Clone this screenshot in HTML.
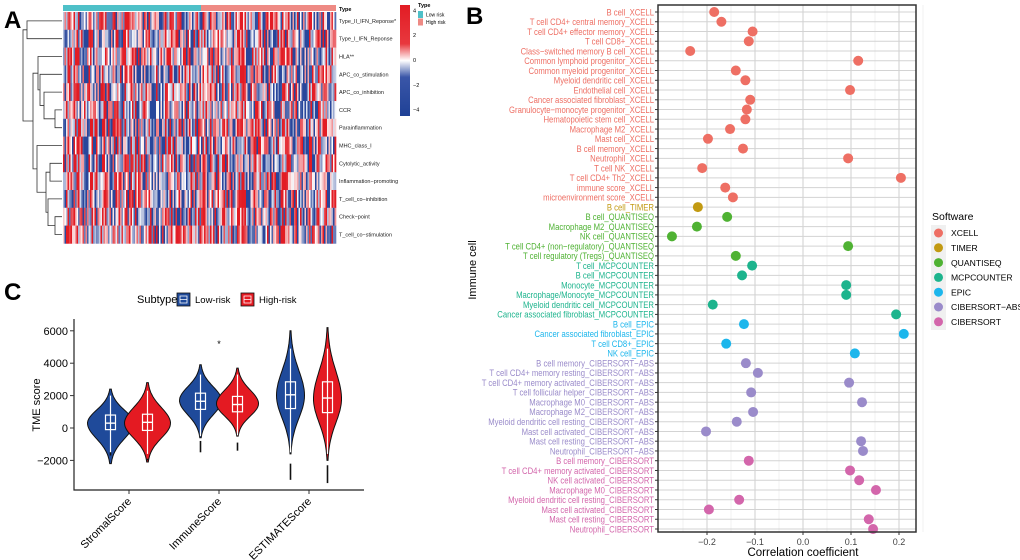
<!DOCTYPE html>
<html><head><meta charset="utf-8"><style>
html,body{margin:0;padding:0;background:#fff;width:1020px;height:560px;overflow:hidden}
svg{display:block;font-family:"Liberation Sans",sans-serif}
</style></head><body>
<svg id="fig" width="1020" height="560" viewBox="0 0 1020 560">
<g id="pa"></g>
<g id="pb"></g>
<g id="pc"></g>
<text x="4" y="28" font-size="24" font-weight="bold">A</text>
<text x="466" y="24" font-size="24" font-weight="bold">B</text>
<text x="4" y="300" font-size="24" font-weight="bold">C</text>
</svg>
<script>
// ---------- Panel B data ----------
const cellNames=["B cell_XCELL","T cell CD4+ central memory_XCELL","T cell CD4+ effector memory_XCELL","T cell CD8+_XCELL","Class\u2212switched memory B cell_XCELL","Common lymphoid progenitor_XCELL","Common myeloid progenitor_XCELL","Myeloid dendritic cell_XCELL","Endothelial cell_XCELL","Cancer associated fibroblast_XCELL","Granulocyte\u2212monocyte progenitor_XCELL","Hematopoietic stem cell_XCELL","Macrophage M2_XCELL","Mast cell_XCELL","B cell memory_XCELL","Neutrophil_XCELL","T cell NK_XCELL","T cell CD4+ Th2_XCELL","immune score_XCELL","microenvironment score_XCELL","B cell_TIMER","B cell_QUANTISEQ","Macrophage M2_QUANTISEQ","NK cell_QUANTISEQ","T cell CD4+ (non\u2212regulatory)_QUANTISEQ","T cell regulatory (Tregs)_QUANTISEQ","T cell_MCPCOUNTER","B cell_MCPCOUNTER","Monocyte_MCPCOUNTER","Macrophage/Monocyte_MCPCOUNTER","Myeloid dendritic cell_MCPCOUNTER","Cancer associated fibroblast_MCPCOUNTER","B cell_EPIC","Cancer associated fibroblast_EPIC","T cell CD8+_EPIC","NK cell_EPIC","B cell memory_CIBERSORT\u2212ABS","T cell CD4+ memory resting_CIBERSORT\u2212ABS","T cell CD4+ memory activated_CIBERSORT\u2212ABS","T cell follicular helper_CIBERSORT\u2212ABS","Macrophage M0_CIBERSORT\u2212ABS","Macrophage M2_CIBERSORT\u2212ABS","Myeloid dendritic cell resting_CIBERSORT\u2212ABS","Mast cell activated_CIBERSORT\u2212ABS","Mast cell resting_CIBERSORT\u2212ABS","Neutrophil_CIBERSORT\u2212ABS","B cell memory_CIBERSORT","T cell CD4+ memory activated_CIBERSORT","NK cell activated_CIBERSORT","Macrophage M0_CIBERSORT","Myeloid dendritic cell resting_CIBERSORT","Mast cell activated_CIBERSORT","Mast cell resting_CIBERSORT","Neutrophil_CIBERSORT"];
const corrValues=[-0.185,-0.17,-0.105,-0.113,-0.235,0.115,-0.14,-0.12,0.098,-0.11,-0.117,-0.12,-0.152,-0.198,-0.125,0.094,-0.21,0.204,-0.162,-0.146,-0.219,-0.158,-0.221,-0.273,0.094,-0.14,-0.106,-0.127,0.09,0.09,-0.188,0.194,-0.123,0.21,-0.16,0.108,-0.119,-0.094,0.096,-0.108,0.123,-0.104,-0.138,-0.202,0.121,0.125,-0.113,0.098,0.117,0.152,-0.133,-0.196,0.137,0.146];
const softwareOf=["XCELL","XCELL","XCELL","XCELL","XCELL","XCELL","XCELL","XCELL","XCELL","XCELL","XCELL","XCELL","XCELL","XCELL","XCELL","XCELL","XCELL","XCELL","XCELL","XCELL","TIMER","QUANTISEQ","QUANTISEQ","QUANTISEQ","QUANTISEQ","QUANTISEQ","MCPCOUNTER","MCPCOUNTER","MCPCOUNTER","MCPCOUNTER","MCPCOUNTER","MCPCOUNTER","EPIC","EPIC","EPIC","EPIC","CIBERSORT-ABS","CIBERSORT-ABS","CIBERSORT-ABS","CIBERSORT-ABS","CIBERSORT-ABS","CIBERSORT-ABS","CIBERSORT-ABS","CIBERSORT-ABS","CIBERSORT-ABS","CIBERSORT-ABS","CIBERSORT","CIBERSORT","CIBERSORT","CIBERSORT","CIBERSORT","CIBERSORT","CIBERSORT","CIBERSORT"];
const softwareList=["XCELL","TIMER","QUANTISEQ","MCPCOUNTER","EPIC","CIBERSORT-ABS","CIBERSORT"];
const xTicksB=[-0.2,-0.1,0.0,0.1,0.2];
const xTickLabelsB=["\u22120.2","\u22120.1","0.0","0.1","0.2"];
// ---------- Panel C data ----------
const tmeCategories=["StromalScore","ImmuneScore","ESTIMATEScore"];
const yTicksC=[-2000,0,2000,4000,6000];
const yTickLabelsC=["\u22122000","0","2000","4000","6000"];
const lowMedian=[300,1650,2050], lowQ1=[-100,1150,1200], lowQ3=[800,2150,2850];
const lowMin=[-2200,-600,-1600], lowMax=[2400,3900,6000], lowMode=[300,1700,2000];
const lowWhiskLo=[-1500,-500,-1500], lowWhiskHi=[2000,3300,4900];
const lowOutLo=[-1700,-1500,-3200], lowOutHi=[-1500,-800,-2200];
const highMedian=[350,1450,1850], highQ1=[-150,1000,950], highQ3=[850,1950,2850];
const highMin=[-2100,-500,-2000], highMax=[2800,3700,6200], highMode=[300,1500,1800];
const highWhiskLo=[-1600,-450,-1600], highWhiskHi=[2300,3300,4900];
const highOutLo=[-2000,-1400,-3400], highOutHi=[-1900,-900,-2300];
const violinHalfWidth=[23,21,14];
// ---------- Panel A data ----------
const heatRows=["Type_II_IFN_Reponse*","Type_I_IFN_Reponse","HLA**","APC_co_stimulation","APC_co_inhibition","CCR","Parainflammation","MHC_class_I","Cytolytic_activity","Inflammation\u2212promoting","T_cell_co\u2212inhibition","Check\u2212point","T_cell_co\u2212stimulation"];
const colorbarTicks=[4,2,0,-2,-4];

const NS="http://www.w3.org/2000/svg";
function mk(parent,tag,attrs,text){const e=document.createElementNS(NS,tag);for(const k in attrs)e.setAttribute(k,attrs[k]);if(text!==undefined)e.textContent=text;parent.appendChild(e);return e;}

// ===== Panel A =====
(function(){
const g=document.getElementById('pa');
const x0=63,x1=336,y0=12,rowH=17.8,nCol=182,cw=(x1-x0)/nCol;
let s=12345;function rnd(){s=(s*1103515245+12345)%2147483648;return s/2147483648;}
function col(v){v=Math.max(-4,Math.min(4,v));const t=Math.min(1,Math.abs(v)/4*2.4);
 if(v>=0){const r=255+(226-255)*t,gg=255+(28-255)*t,b=255+(36-255)*t;return `rgb(${r|0},${gg|0},${b|0})`;}
 const r=255+(40-255)*t,gg=255+(70-255)*t,b=255+(155-255)*t;return `rgb(${r|0},${gg|0},${b|0})`;}
const colBias=[];for(let c=0;c<nCol;c++)colBias.push((rnd()-0.5)*2.5);
const cells=mk(g,'g',{});


for(let r=0;r<heatRows.length;r++)for(let c=0;c<nCol;c++){
 const v=colBias[c]+(rnd()-0.5)*4.5;
 const rc=mk(cells,'rect',{x:(x0+c*cw).toFixed(2),y:(y0+r*rowH).toFixed(2),width:(cw+0.3).toFixed(2),height:rowH+0.3,fill:col(v)});
 
 
}
const tb1=mk(g,'rect',{x:x0,y:5,width:138,height:6,fill:'#4ec0c8'});

const tb2=mk(g,'rect',{x:x0+138,y:5,width:x1-x0-138,height:6,fill:'#ee8a84'});

const tl=mk(g,'text',{x:339,y:11,'font-size':5.5,'font-weight':'bold'},'Type');

heatRows.forEach((n,i)=>{const t=mk(g,'text',{x:339,y:y0+(i+0.5)*rowH+2,'font-size':5.5,fill:'#222'},n);
 });
const yc=i=>y0+(i+0.5)*rowH;
const dg=mk(g,'g',{stroke:'#333','stroke-width':0.8,fill:'none'});

function join(a,b,x){mk(dg,'path',{d:`M${a.x},${a.y}H${x}V${b.y}H${b.x}`});return {x:x,y:(a.y+b.y)/2};}
const L=i=>({x:62,y:yc(i)});
const n01=join(L(0),L(1),27);
const n56=join(L(5),L(6),55);
const n456=join(L(4),n56,44);
const n3456=join(L(3),n456,40);
const n2=join(L(2),n3456,38);
const n89=join(L(8),L(9),50);
const n1112=join(L(11),L(12),55);
const n10=join(L(10),n1112,48);
const n8_12=join(n89,n10,46);
const n7=join(L(7),n8_12,37);
const nb=join(n2,n7,33);
join(n01,nb,23);
const defs=mk(g,'defs',{});
const lg=mk(defs,'linearGradient',{id:'cb',x1:0,y1:0,x2:0,y2:1});
mk(lg,'stop',{offset:'0',  'stop-color':'#e21c24'});
mk(lg,'stop',{offset:'0.35','stop-color':'#e8383e'});
mk(lg,'stop',{offset:'0.5','stop-color':'#ffffff'});
mk(lg,'stop',{offset:'0.65','stop-color':'#3a56a8'});
mk(lg,'stop',{offset:'1','stop-color':'#1f4196'});
const cb=mk(g,'rect',{x:400,y:5,width:10,height:111,fill:'url(#cb)'});

colorbarTicks.forEach(v=>{const y=60-v*12.4+2;const t=mk(g,'text',{x:413,y:y,'font-size':5.5},String(v).replace('-','\u2212'));
 });
const lt=mk(g,'text',{x:418,y:7,'font-size':5.5,'font-weight':'bold'},'Type');

[['Low risk','#4ec0c8'],['High risk','#ee8a84']].forEach((e,i)=>{
 const r=mk(g,'rect',{x:418,y:11+i*7.5,width:5,height:7,fill:e[1]});
 
 const t=mk(g,'text',{x:426,y:16.5+i*7.5,'font-size':5},e[0]);
 });
})();

// ===== Panel B =====
(function(){
const g=document.getElementById('pb');
const left=658,right=916,top=5,bottom=532,zeroX=803,per=480;
const X=v=>zeroX+v*per;
const y0=12,dy=(529-12)/(cellNames.length-1);
const Y=i=>y0+i*dy;
const colors={"XCELL":"#ee6f64","TIMER":"#c29a12","QUANTISEQ":"#4fb233","MCPCOUNTER":"#1db48d","EPIC":"#1cb6ec","CIBERSORT-ABS":"#9a8bca","CIBERSORT":"#d366ab"};
const bg=mk(g,'rect',{x:left,y:top,width:right-left,height:bottom-top,fill:'#fff'});

for(let v=-0.25;v<=0.2501;v+=0.05){const x=X(v);
 const major=Math.abs(Math.round(v*100)%10)===0;
 const l=mk(g,'line',{x1:x,x2:x,y1:top,y2:bottom,stroke:major?'#cfcfcf':'#e6e6e6','stroke-width':major?1:0.6});
 }
const yt=mk(g,'text',{x:0,y:0,'font-size':11,'text-anchor':'middle',transform:'translate(476,270) rotate(-90)'},'Immune cell');

cellNames.forEach((n,i)=>{const y=Y(i);
 const l=mk(g,'line',{x1:left,x2:right,y1:y,y2:y,stroke:'#d3d3d3','stroke-width':1});
 
 const tk=mk(g,'line',{x1:left-3,x2:left,y1:y,y2:y,stroke:'#333','stroke-width':1});
 
 const t=mk(g,'text',{x:0,y:0,'font-size':9.3,'text-anchor':'end',fill:colors[softwareOf[i]],transform:`translate(${left-4},${(y+3.3).toFixed(2)}) scale(0.83,1)`},n);
 
 const c=mk(g,'circle',{cx:X(corrValues[i]),cy:y,r:5,fill:colors[softwareOf[i]]});
 });
const fr=mk(g,'rect',{x:left,y:top,width:right-left,height:bottom-top,fill:'none',stroke:'#333','stroke-width':1.5});

xTicksB.forEach((v,i)=>{const x=X(v);
 const tk=mk(g,'line',{x1:x,x2:x,y1:bottom,y2:bottom+3,stroke:'#333'});
 
 const t=mk(g,'text',{x:x,y:bottom+13,'font-size':9,'text-anchor':'middle',fill:'#444'},xTickLabelsB[i]);
 });
const xt=mk(g,'text',{x:X(0),y:556,'font-size':11.5,'text-anchor':'middle'},'Correlation coefficient');

const lt=mk(g,'text',{x:932,y:220,'font-size':10.5},'Software');

const lbg=mk(g,'rect',{x:931,y:225,width:15,height:105,fill:'#f0f0f0'});

softwareList.forEach((s,i)=>{const y=233+i*14.8;
 const c=mk(g,'circle',{cx:938.5,cy:y,r:4.5,fill:colors[s]});
 
 const t=mk(g,'text',{x:951,y:y+3.2,'font-size':8.6},s.replace('-','\u2212'));
 });
})();

// ===== Panel C =====
(function(){
const g=document.getElementById('pc');
const axL=74,axR=364,top=319,axB=490;
const zeroY=428,per=32.4/2000;
const Y=v=>zeroY-v*per;
const catX=[129,219,309],off=18.5;
function violin(cx,mn,mx,mode,hw,fill,name){
 const n=40,pts=[],ptsR=[];
 for(let k=0;k<=n;k++){const v=mn+(mx-mn)*k/n;
  const sd=v<mode?(mode-mn)/2.6:(mx-mode)/2.6;
  const w=hw*Math.exp(-0.5*Math.pow((v-mode)/sd,2));
  pts.push([cx-w,Y(v)]);ptsR.push([cx+w,Y(v)]);}
 const d='M'+pts.map(p=>p[0].toFixed(1)+','+p[1].toFixed(1)).join('L')+'L'+ptsR.reverse().map(p=>p[0].toFixed(1)+','+p[1].toFixed(1)).join('L')+'Z';
 const p=mk(g,'path',{d:d,fill:fill,stroke:'#111','stroke-width':1});
 }
function box(cx,q1,md,q3,wl,wh,ol,oh,name){
 const w=mk(g,'line',{x1:cx,x2:cx,y1:Y(wl),y2:Y(wh),stroke:'#fff','stroke-width':1.2});
 
 const b=mk(g,'rect',{x:cx-5,y:Y(q3),width:10,height:Y(q1)-Y(q3),fill:'none',stroke:'#fff','stroke-width':1.2});
 
 const m=mk(g,'line',{x1:cx-5,x2:cx+5,y1:Y(md),y2:Y(md),stroke:'#fff','stroke-width':1.4});
 
 const o=mk(g,'line',{x1:cx,x2:cx,y1:Y(ol),y2:Y(oh),stroke:'#111','stroke-width':1.6});
 }
tmeCategories.forEach((c,i)=>{
 violin(catX[i]-off,lowMin[i],lowMax[i],lowMode[i],violinHalfWidth[i],'#1f4a9a','violin-low-risk');
 box(catX[i]-off,lowQ1[i],lowMedian[i],lowQ3[i],lowWhiskLo[i],lowWhiskHi[i],lowOutLo[i],lowOutHi[i],'box-low-risk');
 violin(catX[i]+off,highMin[i],highMax[i],highMode[i],violinHalfWidth[i],'#e41a22','violin-high-risk');
 box(catX[i]+off,highQ1[i],highMedian[i],highQ3[i],highWhiskLo[i],highWhiskHi[i],highOutLo[i],highOutHi[i],'box-high-risk');
 const tk=mk(g,'line',{x1:catX[i],x2:catX[i],y1:axB,y2:axB+4,stroke:'#333'});
 
 const t=mk(g,'text',{x:0,y:0,'font-size':11,'text-anchor':'end',transform:`translate(${catX[i]+3},${axB+12}) rotate(-45)`},c);
 });
const star=mk(g,'text',{x:219,y:347,'font-size':9,'text-anchor':'middle'},'*');

const ax=mk(g,'path',{d:`M${axL},${top}V${axB}H${axR}`,fill:'none',stroke:'#222','stroke-width':1.2});

yTicksC.forEach((v,i)=>{const y=Y(v);
 const tk=mk(g,'line',{x1:axL-4,x2:axL,y1:y,y2:y,stroke:'#333'});
 
 const t=mk(g,'text',{x:axL-6,y:y+4,'font-size':11,'text-anchor':'end'},yTickLabelsC[i]);
 });
const yt=mk(g,'text',{x:0,y:0,'font-size':11,'text-anchor':'middle',transform:'translate(40,405) rotate(-90)'},'TME score');

const lt=mk(g,'text',{x:137,y:303,'font-size':11},'Subtype');

[['Low-risk','#1f4a9a',177],['High-risk','#e41a22',241]].forEach(e=>{
 const r=mk(g,'rect',{x:e[2],y:293,width:13,height:13,fill:e[1],stroke:'#111','stroke-width':0.8});
 
 const l=mk(g,'path',{d:`M${e[2]+3},${296}h7v7h-7zM${e[2]+3},${299.5}h7`,fill:'none',stroke:'#fff','stroke-width':0.8});
 
 const t=mk(g,'text',{x:e[2]+18,y:303,'font-size':9.5},e[0]);
 });
})();
</script>
</body></html>
